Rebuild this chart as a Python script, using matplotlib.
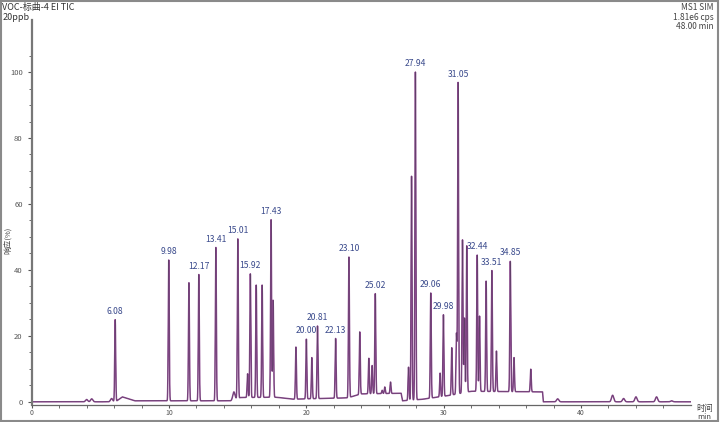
import numpy as np
import matplotlib
matplotlib.use("Agg")
from matplotlib import pyplot as plt
from matplotlib.patches import Rectangle

plt.rcParams['font.family'] = ['Noto Sans CJK SC', 'DejaVu Sans']

# labelled peaks: retention time (min), relative height (%)
lab_t = [6.08, 9.98, 12.17, 13.41, 15.01, 15.92, 17.43, 20.00, 20.81, 22.13,
         23.10, 25.02, 27.94, 29.06, 29.98, 31.05, 32.44, 33.51, 34.85]
lab_h = [24.9, 43.0, 38.6, 46.8, 49.4, 38.8, 55.2, 19.0, 23.0, 19.2,
         43.9, 32.8, 100.0, 33.0, 26.4, 96.8, 44.5, 39.8, 42.6]

# unlabelled peaks
oth_t = [4.0, 4.37, 5.82, 11.45, 14.72, 15.72, 16.35, 16.78, 17.58, 19.24,
         20.40, 23.89, 24.55, 24.79, 25.52, 25.71, 26.13, 27.44, 27.66, 29.74,
         30.59, 30.93, 31.37, 31.51, 31.68, 32.61, 33.09, 33.84, 35.12, 35.68,
         36.34, 38.3, 42.3, 43.1, 44.0, 45.5, 46.6]
oth_h = [0.7, 0.9, 1.0, 36.1, 3.0, 8.5, 35.4, 35.4, 30.8, 16.6,
         13.4, 21.2, 13.2, 11.0, 3.5, 4.5, 6.0, 10.5, 68.4, 8.7,
         16.4, 20.6, 49.1, 25.4, 47.3, 26.0, 36.6, 15.4, 13.4, 1.0,
         9.9, 0.9, 2.0, 1.0, 1.5, 1.5, 0.3]

# baseline level knots (min, %)
base_t = [0, 6.1, 6.6, 7.5, 14.5, 15.2, 17.8, 19.0, 23.0, 24.0, 26.9, 27.0, 28.5, 30.5, 32.0, 37.2, 37.25, 48]
base_h = [0, 0, 1.5, 0.3, 0.3, 1.3, 1.4, 0.8, 1.2, 2.4, 2.6, 0.3, 0.8, 2.0, 3.2, 3.0, 0.0, 0.0]

t = np.linspace(0, 48, 24001)
sig = np.interp(t, base_t, base_h)
pk_t = lab_t + oth_t
pk_h = lab_h + oth_h
for pt, ph in zip(pk_t, pk_h):
    bl = np.interp(pt, base_t, base_h)
    w = 0.035 if ph > 3 else 0.08
    sig += max(ph - bl, 0) * np.exp(-0.5 * ((t - pt) / w) ** 2)

fig = plt.figure(figsize=(7.22, 4.22), dpi=100)
ax = fig.add_axes([0.0439, 0.040, 0.913, 0.912])
ax.plot(t, sig, color='#8d4a90', lw=1.1)
ax.plot(t, sig, color='#4b3a55', lw=0.35, alpha=0.7)

for pt, ph in zip(lab_t, lab_h):
    ax.text(pt, ph + 1.2, f"{pt:.2f}", ha='center', va='bottom',
            fontsize=6.2, color='#3a4a8c')

ax.set_xlim(0, 48)
ax.set_ylim(-1, 115.7)
ax.set_xticks([0, 10, 20, 30, 40])
ax.set_xticks(np.arange(0, 48, 2), minor=True)
ax.set_yticks([0, 20, 40, 60, 80, 100])
ax.set_yticks(np.arange(0, 110, 5), minor=True)
ax.tick_params(labelsize=5.5, colors='#555555', length=3, width=0.8)
ax.tick_params(axis='x', pad=0.5, length=2.5, labelsize=5)
ax.tick_params(which='minor', length=2, width=0.6, colors='#555555')
for s in ['top', 'right']:
    ax.spines[s].set_visible(False)
ax.spines['left'].set_color('#777777')
ax.spines['left'].set_linewidth(1.6)
ax.spines['bottom'].set_color('#666666')
ax.spines['bottom'].set_linewidth(0.9)
fig.text(0.012, 0.43, '响应(%)', rotation=90, ha='center', va='center',
         fontsize=5.5, color='#444444')

fig.text(0.003, 0.992, 'VOC-标曲-4 EI TIC\n20ppb', ha='left', va='top',
         fontsize=6.5, color='#333333', linespacing=1.05)
fig.text(0.988, 0.992, 'MS1 SIM\n1.81e6 cps\n48.00 min', ha='right', va='top',
         fontsize=6, color='#444444', linespacing=1.05)
fig.text(0.976, 0.032, '时间', ha='center', va='center', fontsize=6, color='#444444')
fig.text(0.976, 0.013, 'min', ha='center', va='center', fontsize=5.5, color='#444444')

fig.patches.append(Rectangle((0.001, 0.002), 0.993, 0.996, transform=fig.transFigure,
                             fill=False, edgecolor='#8a8a8a', lw=1.5))

fig.savefig('out.png', dpi=100)
